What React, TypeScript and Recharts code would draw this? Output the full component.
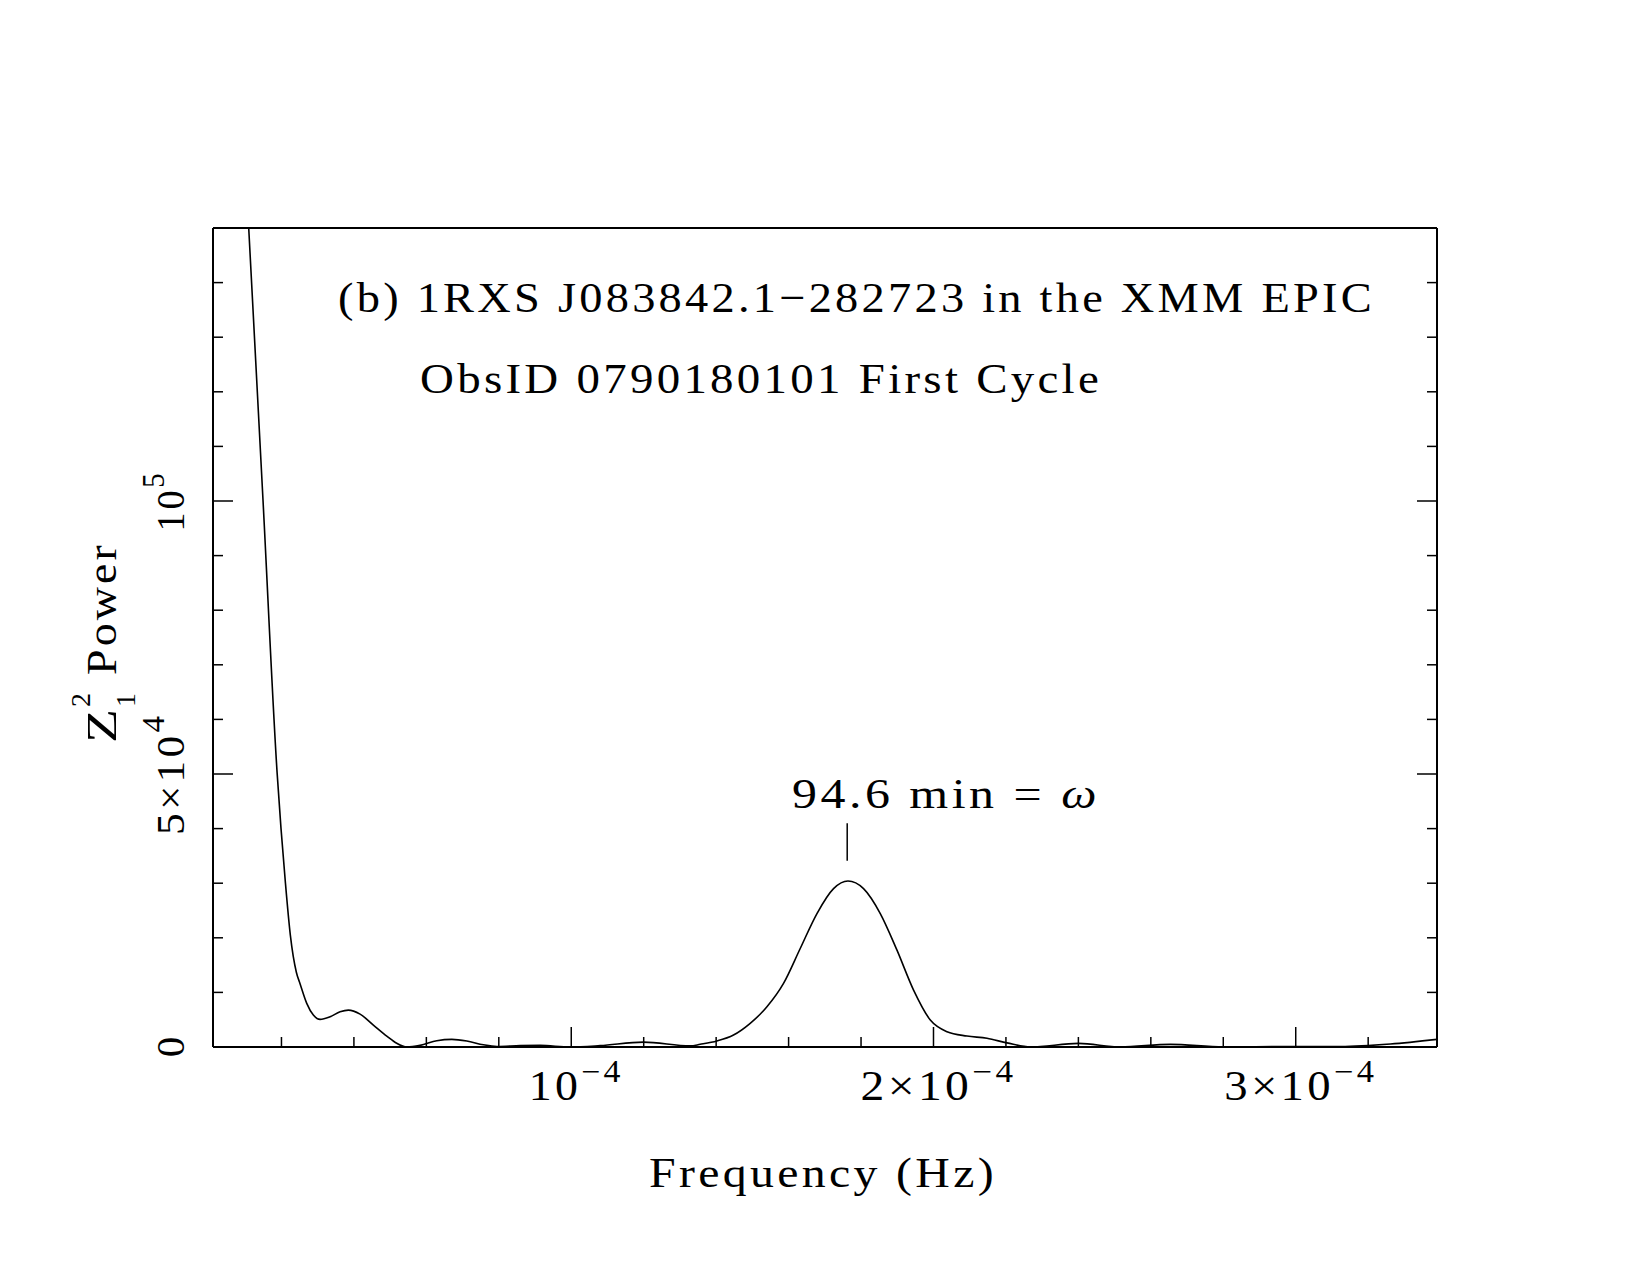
import { LineChart, Line, XAxis, YAxis, ReferenceLine } from "recharts";

// Z_1^2 periodogram, frequency in Hz
const freqHz = [
  1.1e-6, 5.8e-6, 1.096e-5, 1.491e-5, 1.88e-5, 2.11e-5, 2.245e-5, 2.411e-5,
  2.513e-5, 2.698e-5, 2.88e-5, 3.065e-5, 3.342e-5, 3.618e-5, 3.847e-5, 4.17e-5,
  4.537e-5, 4.907e-5, 5.184e-5, 5.46e-5, 5.827e-5, 6.288e-5, 6.703e-5, 7.117e-5,
  7.575e-5, 7.945e-5, 8.589e-5, 9.141e-5, 9.97e-5, 1.0798e-4, 1.1994e-4,
  1.3283e-4, 1.3559e-4, 1.4021e-4, 1.4479e-4, 1.494e-4, 1.5402e-4, 1.586e-4,
  1.6321e-4, 1.6783e-4, 1.7241e-4, 1.7639e-4, 1.8069e-4, 1.8531e-4, 1.8992e-4,
  1.945e-4, 1.9912e-4, 2.0373e-4, 2.0925e-4, 2.1477e-4, 2.203e-4, 2.2673e-4,
  2.4007e-4, 2.5159e-4, 2.6539e-4, 2.8003e-4, 2.9384e-4, 3.1235e-4, 3.2616e-4,
  3.3905e-4,
];
const z2Power = [
  275000, 215000, 150000, 100100, 50200, 30000, 20500, 13700, 11600, 8000, 5850,
  5060, 5540, 6450, 6760, 6030, 4020, 2010, 680, 0, 300, 1150, 1400, 1100, 400,
  100, 250, 300, 0, 250, 900, 200, 490, 1100, 2190, 4330, 7370, 11650, 18040,
  24440, 29010, 30400, 29010, 24440, 17730, 10420, 4940, 2800, 2010, 1590, 750,
  0, 670, 0, 490, 0, 100, 100, 550, 1400,
];

const xDomain = [1.1e-6, 3.39e-4];
const yDomain = [0, 150000];

const xTicks = [
  2e-5, 4e-5, 6e-5, 8e-5, 1e-4, 1.2e-4, 1.4e-4, 1.6e-4, 1.8e-4, 2e-4, 2.2e-4,
  2.4e-4, 2.6e-4, 2.8e-4, 3e-4, 3.2e-4,
];
const xMajorTicks = [1e-4, 2e-4, 3e-4];
const xMajorPrefix = ["", "2×", "3×"];
const xMajorExp = ["−4", "−4", "−4"];
const xLabelWidth = [95, 156, 153];

const yTicks = [
  0, 10000, 20000, 30000, 40000, 50000, 60000, 70000, 80000, 90000, 100000,
  110000, 120000, 130000, 140000,
];
const yMajorTicks = [0, 50000, 100000];
const yMajorBase = ["0", "5×10", "10"];
const yMajorExp = ["", "4", "5"];
const yLabelWidth = [0, 122, 61];

const omegaMinutes = 94.6;
const omegaFreq = 1 / (omegaMinutes * 60);
const omegaMarker = [34100, 41000];

const data = freqHz.map((f, i) => ({ f, p: z2Power[i] }));

const FONT = "'Liberation Serif', 'DejaVu Serif', serif";
const MAJOR = 20;
const MINOR = 10;
const FIT = "spacingAndGlyphs";
const GAP = 3;

const majorIndex = (list: number[], v: number) =>
  list.findIndex((m) => Math.abs(m - v) < 1e-9 * Math.max(1, Math.abs(m)));

const BottomTick = (props: any) => {
  const { x, y, payload } = props;
  const idx = majorIndex(xMajorTicks, payload.value);
  const len = idx >= 0 ? MAJOR : MINOR;
  return (
    <g>
      <line x1={x} x2={x} y1={y} y2={y - len} stroke="#000" strokeWidth={1.5} />
      {idx >= 0 && (
        <text
          x={x + 5 - xLabelWidth[idx] / 2}
          y={y + 53}
          fontFamily={FONT}
          fontSize={42}
          fill="#000"
          letterSpacing={GAP}
          textLength={xLabelWidth[idx]}
          lengthAdjust={FIT}
        >
          {xMajorPrefix[idx]}10
          <tspan dy={-18} fontSize={31}>
            {xMajorExp[idx]}
          </tspan>
        </text>
      )}
    </g>
  );
};

const TopTick = (props: any) => {
  const { x, y, payload } = props;
  const len = majorIndex(xMajorTicks, payload.value) >= 0 ? MAJOR : MINOR;
  return <line x1={x} x2={x} y1={y} y2={y + len} stroke="#000" strokeWidth={1.5} />;
};

const LeftTick = (props: any) => {
  const { x, y, payload } = props;
  const idx = majorIndex(yMajorTicks, payload.value);
  const len = idx >= 0 ? MAJOR : MINOR;
  const lx = x - 29;
  const w = idx >= 0 ? yLabelWidth[idx] : 0;
  return (
    <g>
      {payload.value > 0 && (
        <line x1={x} x2={x + len} y1={y} y2={y} stroke="#000" strokeWidth={1.5} />
      )}
      {idx >= 0 && (
        <text
          x={w ? lx - w / 2 : lx}
          y={y}
          transform={`rotate(-90, ${lx}, ${y})`}
          textAnchor={w ? "start" : "middle"}
          fontFamily={FONT}
          fontSize={41}
          fill="#000"
          letterSpacing={w ? GAP : 0}
          textLength={w || undefined}
          lengthAdjust={FIT}
        >
          {yMajorBase[idx]}
          {yMajorExp[idx] && (
            <tspan dy={-20} fontSize={31}>
              {yMajorExp[idx]}
            </tspan>
          )}
        </text>
      )}
    </g>
  );
};

const RightTick = (props: any) => {
  const { x, y, payload } = props;
  if (payload.value <= 0) return <g />;
  const len = majorIndex(yMajorTicks, payload.value) >= 0 ? MAJOR : MINOR;
  return <line x1={x} x2={x - len} y1={y} y2={y} stroke="#000" strokeWidth={1.5} />;
};

const frame = { stroke: "#000", strokeWidth: 2 };

export default function App() {
  return (
    <div
      style={{
        position: "absolute",
        left: 0,
        top: 0,
        width: 1650,
        height: 1275,
        background: "#fff",
      }}
    >
      <LineChart
        width={1650}
        height={1275}
        data={data}
        margin={{ top: 218, right: 203, bottom: 168, left: 153 }}
      >
        <XAxis
          dataKey="f"
          type="number"
          domain={xDomain}
          allowDataOverflow
          ticks={xTicks}
          interval={0}
          tick={BottomTick}
          tickLine={false}
          tickSize={0}
          tickMargin={0}
          axisLine={frame}
          height={60}
        />
        <XAxis
          xAxisId="top"
          orientation="top"
          type="number"
          domain={xDomain}
          allowDataOverflow
          ticks={xTicks}
          interval={0}
          tick={TopTick}
          tickLine={false}
          tickSize={0}
          tickMargin={0}
          axisLine={frame}
          height={10}
        />
        <YAxis
          type="number"
          domain={yDomain}
          allowDataOverflow
          ticks={yTicks}
          interval={0}
          tick={LeftTick}
          tickLine={false}
          tickSize={0}
          tickMargin={0}
          axisLine={frame}
          width={60}
        />
        <YAxis
          yAxisId="right"
          orientation="right"
          type="number"
          domain={yDomain}
          allowDataOverflow
          ticks={yTicks}
          interval={0}
          tick={RightTick}
          tickLine={false}
          tickSize={0}
          tickMargin={0}
          axisLine={frame}
          width={10}
        />
        <ReferenceLine
          segment={[
            { x: omegaFreq, y: omegaMarker[0] },
            { x: omegaFreq, y: omegaMarker[1] },
          ]}
          stroke="#000"
          strokeWidth={1.5}
        />
        <Line
          type="monotone"
          dataKey="p"
          stroke="#000"
          strokeWidth={1.6}
          dot={false}
          activeDot={false}
          isAnimationActive={false}
        />
      </LineChart>
      <svg
        width={1650}
        height={1275}
        style={{ position: "absolute", left: 0, top: 0, pointerEvents: "none" }}
        fontFamily={FONT}
        fill="#000"
      >
        <text x={338} y={311.5} fontSize={43} letterSpacing={GAP} textLength={1037} lengthAdjust={FIT}>
          (b) 1RXS J083842.1−282723 in the XMM EPIC
        </text>
        <text x={420} y={392.5} fontSize={43} letterSpacing={GAP} textLength={682} lengthAdjust={FIT}>
          ObsID 0790180101 First Cycle
        </text>
        <text x={792} y={808} fontSize={43} letterSpacing={GAP} textLength={308} lengthAdjust={FIT}>
          {omegaMinutes} min = <tspan fontStyle="italic">ω</tspan>
        </text>
        <text x={649} y={1187} fontSize={43} letterSpacing={GAP} textLength={348} lengthAdjust={FIT}>
          Frequency (Hz)
        </text>
        <g transform="translate(116,743) rotate(-90)">
          <text x={0} y={0} fontSize={43} textLength={34} lengthAdjust={FIT}>
            Z
          </text>
          <text x={36} y={-26} fontSize={28}>
            2
          </text>
          <text x={36} y={19} fontSize={28}>
            1
          </text>
          <text x={68} y={0} fontSize={43} letterSpacing={GAP} textLength={133} lengthAdjust={FIT}>
            Power
          </text>
        </g>
      </svg>
    </div>
  );
}
